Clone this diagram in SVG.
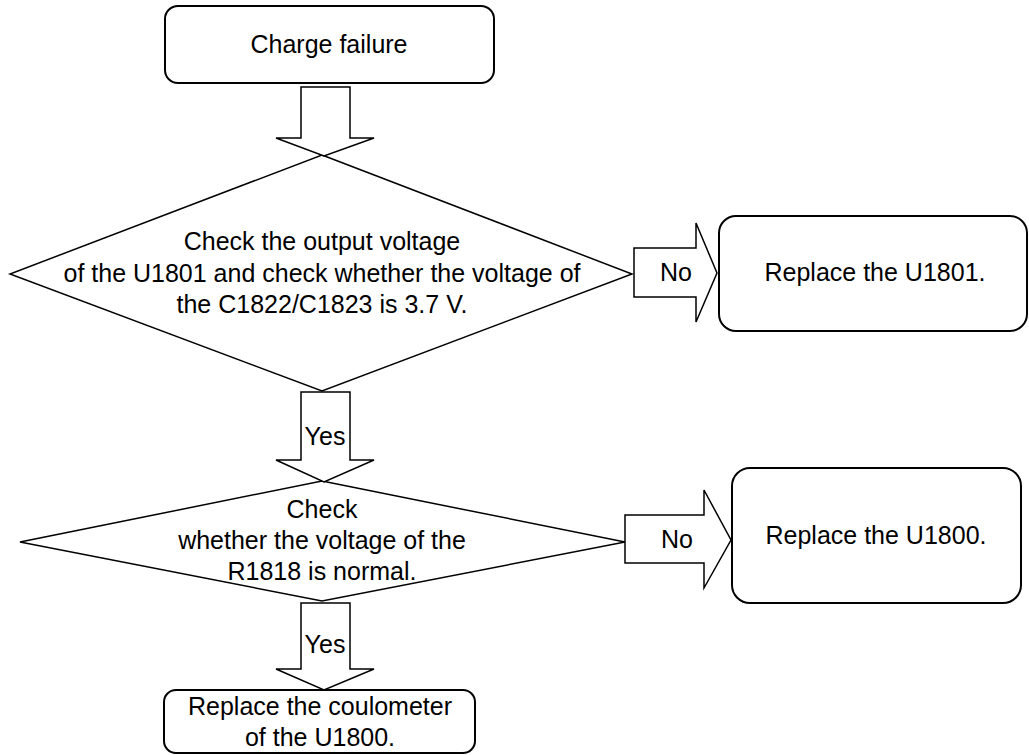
<svg xmlns="http://www.w3.org/2000/svg" width="1029" height="755" viewBox="0 0 1029 755">
  <style>
    .box { fill: #fff; stroke: #000; stroke-width: 2; }
    .dec { fill: #fff; stroke: #000; stroke-width: 1.5; stroke-linejoin: miter; }
    .flow { fill: #fff; stroke: #000; stroke-width: 1.5; stroke-linejoin: miter; }
    text { font-family: "Liberation Sans", Arial, sans-serif; font-size: 25px; fill: #000; text-anchor: middle; }
  </style>
  <rect width="1029" height="755" fill="#fff"/>

  <!-- process and decision nodes -->
  <g id="start">
    <rect class="box" x="165" y="6" width="329" height="77" rx="13"/>
    <text x="329" y="53">Charge failure</text>
  </g>

  <g id="check-u1801">
    <polygon class="dec" points="322,155 632,274 322,391 10,274"/>
    <text x="322" y="250">Check the output voltage</text>
    <text x="322" y="282">of the U1801 and check whether the voltage of</text>
    <text x="322" y="313">the C1822/C1823 is 3.7 V.</text>
  </g>

  <g id="replace-u1801">
    <rect class="box" x="719" y="216" width="308" height="115" rx="17"/>
    <text x="875" y="281">Replace the U1801.</text>
  </g>

  <g id="check-r1818">
    <polygon class="dec" points="322,481 625,542 322,601 20,542"/>
    <text x="322" y="518">Check</text>
    <text x="322" y="549">whether the voltage of the</text>
    <text x="322" y="580">R1818 is normal.</text>
  </g>

  <g id="replace-u1800">
    <rect class="box" x="732" y="468" width="289" height="135" rx="18"/>
    <text x="876" y="544">Replace the U1800.</text>
  </g>

  <g id="replace-coulometer">
    <rect class="box" x="164" y="690" width="311" height="63" rx="12"/>
    <text x="320" y="715">Replace the coulometer</text>
    <text x="320" y="746">of the U1800.</text>
  </g>

  <!-- block-arrow connectors -->
  <g id="connectors">
    <g id="start-to-check">
      <polygon class="flow" points="301,87 350,87 350,138 374,138 324,156 276,138 301,138"/>
    </g>
    <g id="u1801-no">
      <polygon class="flow" points="634,248 696,248 696,223 717,273 696,322 696,297 634,297"/>
      <text x="676" y="281">No</text>
    </g>
    <g id="u1801-yes">
      <polygon class="flow" points="301,392 350,392 350,460 374,460 324,482 276,460 301,460"/>
      <text x="325" y="445">Yes</text>
    </g>
    <g id="r1818-no">
      <polygon class="flow" points="625,515 704,515 704,490 731,540 704,588 704,563 625,563"/>
      <text x="677" y="548">No</text>
    </g>
    <g id="r1818-yes">
      <polygon class="flow" points="301,603 350,603 350,669 374,669 324,690 276,669 301,669"/>
      <text x="325" y="653">Yes</text>
    </g>
  </g>
</svg>
